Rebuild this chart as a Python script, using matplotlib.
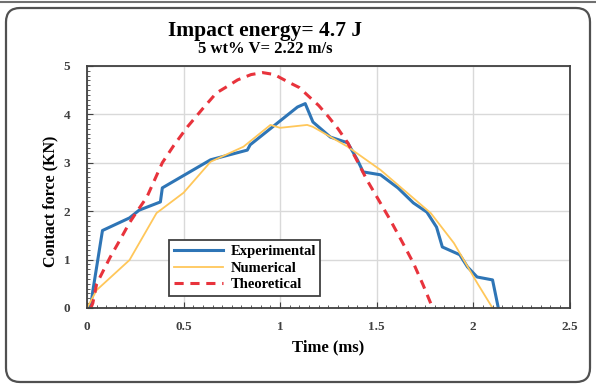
import matplotlib.pyplot as plt
from matplotlib.patches import FancyBboxPatch
from matplotlib.lines import Line2D
from matplotlib.ticker import MultipleLocator

# values
exp_t = [0.0, 0.02, 0.03, 0.08, 0.22, 0.27, 0.38, 0.39, 0.64, 0.83, 0.845, 1.09, 1.13,
         1.17, 1.26, 1.35, 1.40, 1.43, 1.52, 1.61, 1.69, 1.76, 1.81, 1.84, 1.93, 1.97,
         2.02, 2.10, 2.13]
exp_f = [0.0, 0.05, 0.35, 1.6, 1.86, 2.02, 2.19, 2.48, 3.06, 3.26, 3.37, 4.15, 4.22,
         3.84, 3.53, 3.41, 3.06, 2.81, 2.75, 2.48, 2.17, 1.98, 1.67, 1.26, 1.10, 0.85,
         0.64, 0.58, 0.0]

num_t = [0.0, 0.05, 0.22, 0.36, 0.50, 0.64, 0.81, 0.95, 1.00, 1.14, 1.17, 1.35, 1.52,
         1.78, 1.90, 2.02, 2.10]
num_f = [0.0, 0.37, 0.99, 1.96, 2.38, 3.02, 3.33, 3.78, 3.72, 3.78, 3.74, 3.33, 2.85,
         1.96, 1.34, 0.52, 0.0]

th_t = [0.02, 0.03, 0.05, 0.12, 0.17, 0.22, 0.26, 0.31, 0.39, 0.45, 0.52, 0.60, 0.67,
        0.72, 0.78, 0.85, 0.91, 0.97, 1.04, 1.10, 1.14, 1.20, 1.25, 1.30, 1.35, 1.40,
        1.45, 1.50, 1.57, 1.63, 1.69, 1.74, 1.79]
th_f = [0.0, 0.1, 0.5, 1.05, 1.4, 1.76, 2.0, 2.29, 3.0, 3.36, 3.74, 4.12, 4.44,
        4.56, 4.71, 4.82, 4.86, 4.82, 4.67, 4.55, 4.40, 4.18, 3.95, 3.70, 3.41, 3.03,
        2.64, 2.30, 1.82, 1.38, 0.93, 0.48, 0.0]

plt.rcParams['font.family'] = ['Liberation Serif', 'DejaVu Serif']
plt.rcParams['font.weight'] = 'bold'

fig = plt.figure(figsize=(5.96, 3.85), dpi=100)
ax = fig.add_axes([0.146, 0.2, 0.81, 0.629])

ax.plot(exp_t, exp_f, color='#2E75B6', lw=2.2, label='Experimental')
ax.plot(num_t, num_f, color='#FFC75A', lw=1.3, label='Numerical')
ax.plot(th_t, th_f, color='#E8333C', lw=2.2, ls=(0, (3, 2.2)), label='Theoretical')

ax.set_xlim(0, 2.5)
ax.set_ylim(0, 5)
ax.xaxis.set_major_locator(MultipleLocator(0.5))
ax.xaxis.set_minor_locator(MultipleLocator(0.05))
ax.yaxis.set_major_locator(MultipleLocator(1))
ax.yaxis.set_minor_locator(MultipleLocator(0.1))
ax.set_xticks([0, 0.5, 1, 1.5, 2, 2.5])
ax.set_xticklabels(['0', '0.5', '1', '1.5', '2', '2.5'])
ax.grid(True, which='major', color='#D9D9D9', lw=1)
ax.set_axisbelow(True)
ax.tick_params(which='both', direction='in', top=False, right=False,
               colors='#404040', labelsize=9.5)
ax.tick_params(which='major', length=4)
ax.tick_params(which='minor', length=2.5)
ax.tick_params(axis='x', pad=9)
ax.tick_params(axis='y', pad=12)
for s in ax.spines.values():
    s.set_color('#404040')
    s.set_linewidth(1.3)

ax.set_xlabel('Time (ms)', fontsize=12, fontweight='bold', labelpad=5)
fig.text(0.085, 0.478, 'Contact force (KN)', rotation=90, ha='center', va='center',
         fontsize=11.5, fontweight='bold')

fig.text(0.445, 0.92, 'Impact energy= 4.7 J', ha='center', va='center',
         fontsize=15.5, fontweight='bold')
fig.text(0.445, 0.872, '5 wt% V= 2.22 m/s', ha='center', va='center',
         fontsize=12, fontweight='bold')

leg = ax.legend(loc='lower left', bbox_to_anchor=(0.155, 0.02), fontsize=10.5,
                handlelength=3.4, handletextpad=0.5, labelspacing=0.25,
                borderpad=0.3, fancybox=False, framealpha=1)
leg.get_frame().set_edgecolor('#404040')
leg.get_frame().set_linewidth(1.3)

# outer rounded frame of the picture
fig.add_artist(FancyBboxPatch((6, 3), 584, 374, boxstyle='round,pad=0,rounding_size=14',
                              transform=None, fill=False, ec='#505050', lw=1.6))
fig.add_artist(Line2D([0, 1], [0.996, 0.996], transform=fig.transFigure,
                      color='#707070', lw=1.5))

fig.savefig('out.png', dpi=100)
